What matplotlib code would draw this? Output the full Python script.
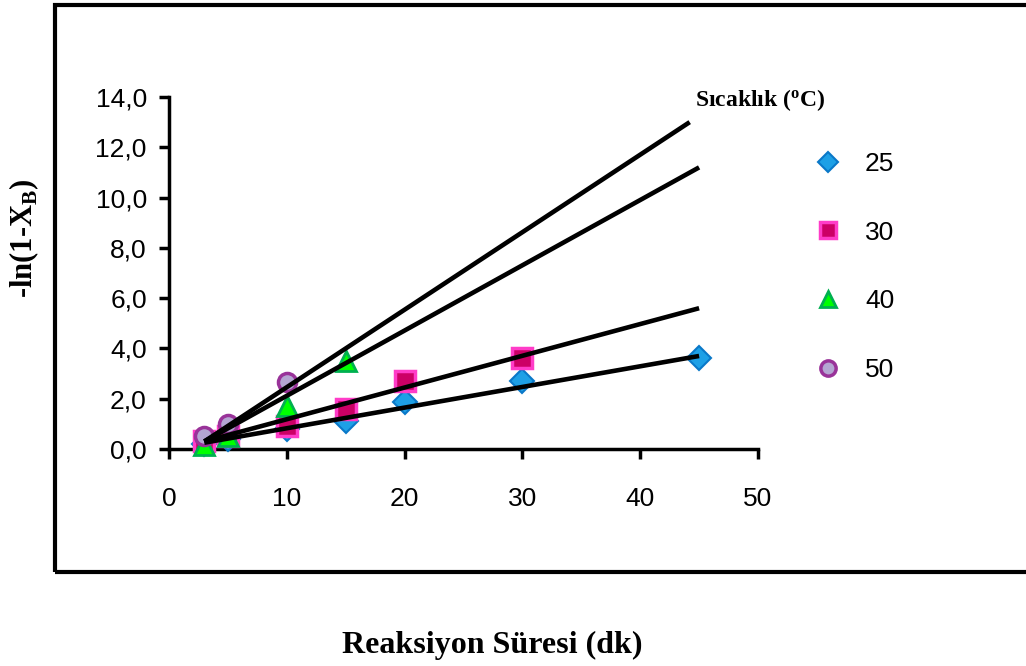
import matplotlib
matplotlib.use("Agg")
from matplotlib import pyplot as plt
from matplotlib.patches import Rectangle
from matplotlib.lines import Line2D

plt.rcParams['font.family'] = ['Liberation Sans', 'DejaVu Sans']
plt.rcParams['mathtext.fontset'] = 'custom'
plt.rcParams['mathtext.rm'] = 'Liberation Serif'
plt.rcParams['mathtext.bf'] = 'Liberation Serif:bold'

# measured points
t25 = [3, 5, 10, 15, 20, 30, 45]
y25 = [0.2, 0.4, 0.8, 1.1, 1.85, 2.7, 3.6]
t30 = [3, 5, 10, 15, 20, 30]
y30 = [0.3, 0.5, 0.9, 1.6, 2.7, 3.6]
t40 = [3, 5, 10, 15]
y40 = [0.15, 0.5, 1.7, 3.5]
t50 = [3, 5, 10]
y50 = [0.5, 1.0, 2.65]

# trend lines (start / end)
fit25_x, fit25 = [3, 45], [0.25, 3.7]
fit30_x, fit30 = [3, 45], [0.3, 5.6]
fit40_x, fit40 = [3, 45], [0.3, 11.2]
fit50_x, fit50 = [3, 44.2], [0.3, 13.0]

labels = ['25', '30', '40', '50']
yticks = [0, 2, 4, 6, 8, 10, 12, 14]
xticks = [0, 10, 20, 30, 40, 50]

fig = plt.figure(figsize=(10.26, 6.66), dpi=100)
ax = fig.add_axes([169/1026, 1-449/666, (758-169)/1026, (449-97)/666])

styles = [
    dict(marker='D', markersize=12, markerfacecolor='#1EA0E6', markeredgecolor='#0A78C8', markeredgewidth=1.5),
    dict(marker='s', markersize=14, markerfacecolor='#CC0066', markeredgecolor='#FF3CC8', markeredgewidth=2.5),
    dict(marker='^', markersize=14, markerfacecolor='#00FF00', markeredgecolor='#00B050', markeredgewidth=2),
    dict(marker='o', markersize=13, markerfacecolor='#B4A6D2', markeredgecolor='#993399', markeredgewidth=2.5),
]
series = [(t25, y25), (t30, y30), (t40, y40), (t50, y50)]
for (t, y), st in zip(series, styles):
    ax.plot(t, y, linestyle='none', clip_on=False, zorder=3, **st)

for fx, fy in [(fit25_x, fit25), (fit30_x, fit30), (fit40_x, fit40), (fit50_x, fit50)]:
    ax.plot(fx, fy, color='black', linewidth=3.3, solid_capstyle='butt', zorder=4, clip_on=False)

ax.set_xlim(0, 50)
ax.set_ylim(0, 14)
ax.set_xticks(xticks)
ax.set_yticks(yticks)
ax.set_yticklabels([('%.1f' % v).replace('.', ',') for v in yticks])
for s in ['top', 'right']:
    ax.spines[s].set_visible(False)
for s in ['left', 'bottom']:
    ax.spines[s].set_linewidth(2.5)
ax.tick_params(axis='both', direction='out', width=2.5, length=7, labelsize=19, colors='black')
ax.tick_params(axis='x', pad=20)
ax.tick_params(axis='y', pad=9)

# legend
handles = [Line2D([], [], linestyle='none', **dict(st, markersize=st['markersize'] - 2)) for st in styles]
fig.legend(handles, labels, loc='upper left', bbox_to_anchor=(778/1026, 1-128/666),
           frameon=False, fontsize=19, labelspacing=1.7, handletextpad=0.4)
fig.text(695/1026, 1-100/666, r'Sıcaklık ($\mathbf{^o}$C)', fontsize=17, fontweight='bold',
         family='Liberation Serif', va='center', ha='left')

fig.text(24/1026, 1-238/666, r'-ln(1-X$_\mathbf{B}$)', fontsize=22, fontweight='bold',
         family='Liberation Serif', rotation=90, va='center', ha='center')
fig.text(492/1026, 1-645/666, 'Reaksiyon Süresi (dk)', fontsize=23, fontweight='bold',
         family='Liberation Serif', va='center', ha='center')

fig.patches.append(Rectangle((55/1026, 1-572/666), 1.0, (572-5)/666, transform=fig.transFigure,
                             fill=False, edgecolor='black', linewidth=3, figure=fig))

fig.savefig('out.png', dpi=100)
